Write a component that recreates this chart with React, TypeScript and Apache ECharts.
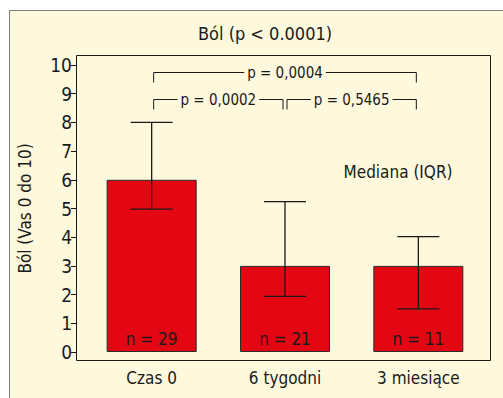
import React, { useEffect, useRef } from "react";
import * as echarts from "echarts";

const categories = ["Czas 0", "6 tygodni", "3 miesiące"];
const medians = [6, 3, 3];
const iqrLow = [4.98, 1.94, 1.5];
const iqrHigh = [8.0, 5.24, 4.02];
const nLabels = ["n = 29", "n = 21", "n = 11"];
const yTicks = [0, 1, 2, 3, 4, 5, 6, 7, 8, 9, 10];
// brackets: [fromCategory, toCategory, yLevel, label]
const brackets: [number, number, number, string][] = [
  [0, 2, 9.77, "p = 0,0004"],
  [0, 1, 8.82, "p = 0,0002"],
  [1, 2, 8.82, "p = 0,5465"],
];
const titleText = "Ból (p < 0.0001)";
const yName = "Ból (Vas 0 do 10)";
const noteText = "Mediana (IQR)";

const FONT = "'Liberation Sans Narrow', 'DejaVu Sans Condensed', sans-serif";
const BG = "#fef9dd";
const INK = "#1a1a1a";

export default function App() {
  const ref = useRef<HTMLDivElement>(null);
  useEffect(() => {
    if (!ref.current) return;
    const chart = echarts.init(ref.current, undefined, { renderer: "svg" });
    chart.setOption({
      animation: false,
      backgroundColor: "#ffffff",
      textStyle: { fontFamily: FONT },
      graphic: [
        {
          type: "rect",
          z: -10,
          shape: { x: 9.5, y: 10.5, width: 520, height: 420 },
          style: { fill: BG, stroke: "#808080", lineWidth: 1 },
        },
        {
          type: "text",
          x: 265,
          y: 33,
          style: {
            text: titleText,
            fontFamily: FONT,
            fontSize: 18,
            fill: INK,
            align: "center",
            verticalAlign: "middle",
          },
        },
        {
          type: "text",
          x: 398,
          y: 172,
          style: {
            text: noteText,
            fontFamily: FONT,
            fontSize: 17,
            fill: INK,
            align: "center",
            verticalAlign: "middle",
          },
        },
      ],
      grid: [
        {
          left: 76.5,
          top: 55.5,
          width: 414,
          height: 305,
          show: true,
          borderColor: INK,
          borderWidth: 1,
          backgroundColor: "transparent",
        },
        { left: 85, top: 65, width: 400, height: 287 },
      ],
      xAxis: [
        { gridIndex: 0, type: "value", show: false, min: 0, max: 1 },
        {
          gridIndex: 1,
          type: "category",
          data: categories,
          offset: 9,
          axisLine: { show: false },
          axisTick: {
            show: true,
            inside: true,
            length: 9,
            alignWithLabel: true,
            lineStyle: { color: INK, width: 1 },
          },
          axisLabel: { fontFamily: FONT, fontSize: 17, color: INK, margin: 8 },
        },
      ],
      yAxis: [
        { gridIndex: 0, type: "value", show: false, min: 0, max: 1 },
        {
          gridIndex: 1,
          type: "value",
          min: yTicks[0],
          max: yTicks[yTicks.length - 1],
          interval: 1,
          offset: 9,
          name: yName,
          nameLocation: "middle",
          nameGap: 43,
          nameRotate: 90,
          nameTextStyle: { fontFamily: FONT, fontSize: 17, color: INK },
          splitLine: { show: false },
          axisLine: { show: false },
          axisTick: { show: true, length: 5, lineStyle: { color: INK, width: 1 } },
          axisLabel: { fontFamily: FONT, fontSize: 19, color: INK, margin: 4 },
        },
      ],
      series: [
        {
          type: "bar",
          xAxisIndex: 1,
          yAxisIndex: 1,
          data: medians,
          barWidth: 90,
          itemStyle: { color: "#e30613", borderColor: "#2a2a2a", borderWidth: 1 },
          label: {
            show: true,
            position: "insideBottom",
            distance: 5,
            fontFamily: FONT,
            fontSize: 17,
            color: INK,
            formatter: (p: any) => nLabels[p.dataIndex],
          },
          z: 2,
        },
        {
          type: "custom",
          xAxisIndex: 1,
          yAxisIndex: 1,
          z: 5,
          data: categories.map((_, i) => [i, iqrLow[i], iqrHigh[i]]),
          renderItem: (params: any, api: any) => {
            const lo = api.coord([api.value(0), api.value(1)]);
            const hi = api.coord([api.value(0), api.value(2)]);
            const hw = 21;
            const st = { stroke: INK, lineWidth: 1.3 };
            return {
              type: "group",
              children: [
                { type: "line", shape: { x1: lo[0], y1: lo[1], x2: hi[0], y2: hi[1] }, style: st },
                { type: "line", shape: { x1: lo[0] - hw, y1: lo[1], x2: lo[0] + hw, y2: lo[1] }, style: st },
                { type: "line", shape: { x1: hi[0] - hw, y1: hi[1], x2: hi[0] + hw, y2: hi[1] }, style: st },
              ],
            };
          },
        },
        {
          type: "custom",
          xAxisIndex: 1,
          yAxisIndex: 1,
          z: 6,
          data: brackets.map((b) => [b[0], b[1], b[2]]),
          renderItem: (params: any, api: any) => {
            const a = api.coord([api.value(0), api.value(2)]);
            const b = api.coord([api.value(1), api.value(2)]);
            const label = brackets[params.dataIndex][3];
            const x1 = a[0] + 2;
            const x2 = b[0] - 2;
            const y = Math.round(a[1]) + 0.5;
            const drop = 10;
            const st = { stroke: INK, lineWidth: 1 };
            return {
              type: "group",
              children: [
                {
                  type: "polyline",
                  shape: { points: [[x1, y + drop], [x1, y], [x2, y], [x2, y + drop]] },
                  style: { ...st, fill: "none" },
                },
                {
                  type: "text",
                  x: (x1 + x2) / 2,
                  y: y,
                  style: {
                    text: label,
                    fontFamily: FONT,
                    fontSize: 15,
                    fill: INK,
                    align: "center",
                    verticalAlign: "middle",
                    backgroundColor: BG,
                    padding: [0, 3],
                  },
                },
              ],
            };
          },
        },
      ],
    });
    return () => chart.dispose();
  }, []);
  return (
    <div
      ref={ref}
      style={{ position: "fixed", left: 0, top: 0, width: 503, height: 398 }}
    />
  );
}
